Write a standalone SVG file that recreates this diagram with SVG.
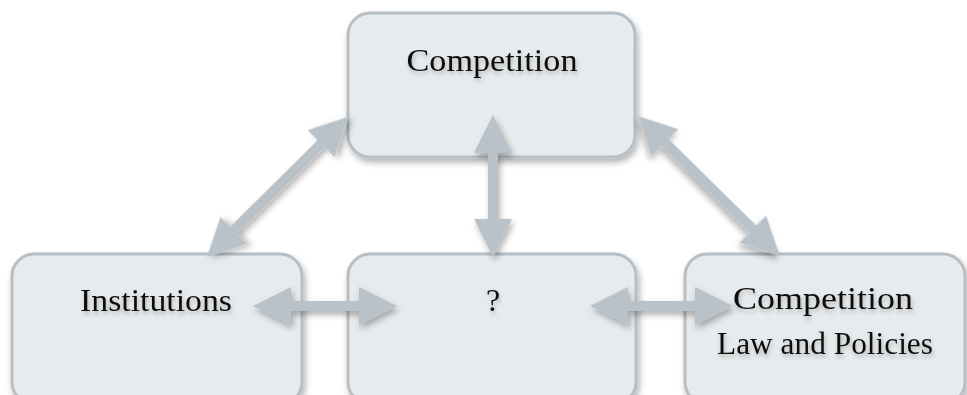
<svg xmlns="http://www.w3.org/2000/svg" width="967" height="395" viewBox="0 0 967 395">
  <defs>
    <filter id="shadow" x="-20%" y="-20%" width="140%" height="140%">
      <feDropShadow dx="2" dy="4" stdDeviation="3" flood-color="#000" flood-opacity="0.3"/>
    </filter>
    <filter id="tshadow" x="-10%" y="-30%" width="120%" height="160%">
      <feDropShadow dx="1" dy="3" stdDeviation="2" flood-color="#000" flood-opacity="0.25"/>
    </filter>
    <path id="arrow" d="M-99.5,0 L-61.5,-19 L-61.5,-5 L61.5,-5 L61.5,-19 L99.5,0 L61.5,19 L61.5,5 L-61.5,5 L-61.5,19 Z"/>
    <style>
      .box { fill: #e8ebed; stroke: #b6bfc5; stroke-width: 3; filter: url(#shadow); }
      .lbl { font-family: "Liberation Serif", "Times New Roman", serif; font-size: 32px; fill: #111; text-anchor: middle; filter: url(#tshadow); }
      .arr { fill: #b9c2c8; filter: url(#shadow); }
    </style>
  </defs>

  <g id="node-competition">
    <rect class="box" x="348" y="13" width="287" height="144" rx="22"/>
    <text class="lbl" x="492" y="71" textLength="171" lengthAdjust="spacingAndGlyphs">Competition</text>
  </g>
  <g id="node-institutions">
    <rect class="box" x="12" y="254" width="290" height="150" rx="22"/>
    <text class="lbl" x="156" y="311" textLength="152" lengthAdjust="spacingAndGlyphs">Institutions</text>
  </g>
  <g id="node-question">
    <rect class="box" x="348" y="254" width="288" height="150" rx="22"/>
    <text class="lbl" x="493" y="311">?</text>
  </g>
  <g id="node-law">
    <rect class="box" x="685" y="254" width="280" height="150" rx="22"/>
    <text class="lbl" x="823" y="309" textLength="180" lengthAdjust="spacingAndGlyphs">Competition</text>
    <text class="lbl" x="825" y="354" textLength="216" lengthAdjust="spacingAndGlyphs">Law and Policies</text>
  </g>

  <g id="connectors">
    <polygon class="arr" points="253,306 291,287 291,301 359,301 359,287 397,306 359,325 359,311 291,311 291,325"/>
    <polygon class="arr" points="590,306 628,287 628,301 695,301 695,287 733,306 695,325 695,311 628,311 628,325"/>
    <polygon class="arr" points="493,115 512,153 498,153 498,219 512,219 493,257 474,219 488,219 488,153 474,153"/>
    <use class="arr" href="#arrow" transform="translate(277.5,187) rotate(-44.8)"/>
    <use class="arr" href="#arrow" transform="translate(709,186) rotate(44.6)"/>
  </g>
</svg>
